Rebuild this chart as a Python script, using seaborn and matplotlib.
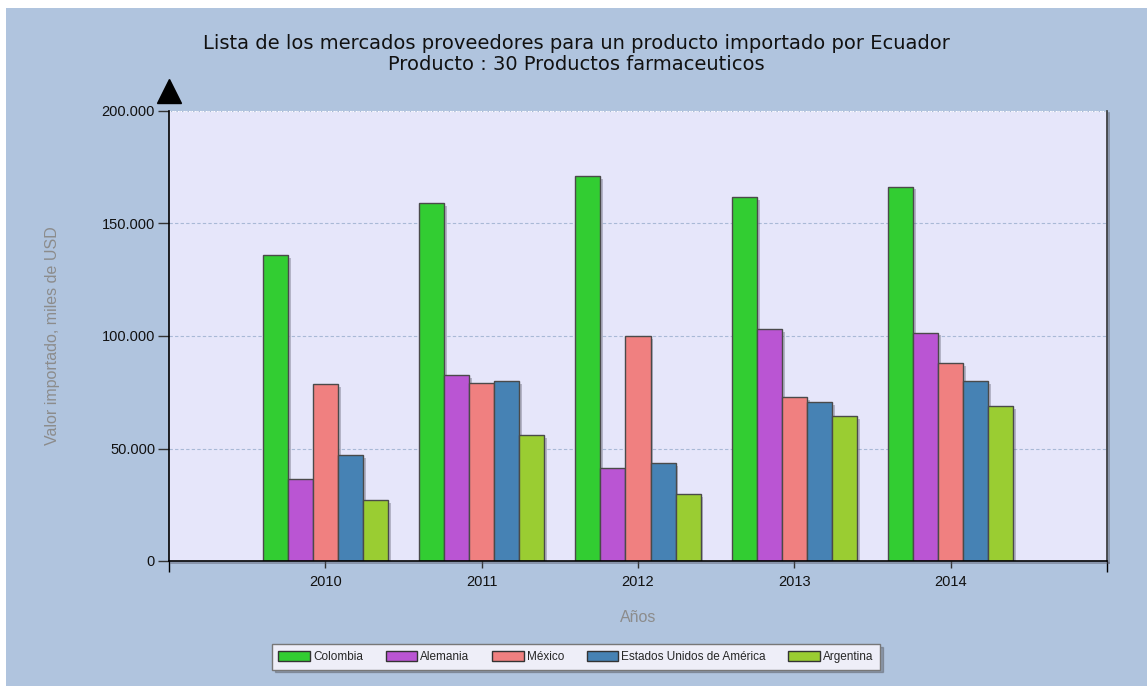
import numpy as np
import pandas as pd
import matplotlib
matplotlib.use("Agg")
import matplotlib.pyplot as plt
import matplotlib.patheffects as pe
from matplotlib.patches import Rectangle, Patch
from matplotlib.ticker import FuncFormatter
import seaborn as sns

years = ["2010", "2011", "2012", "2013", "2014"]
countries = ["Colombia", "Alemania", "México", "Estados Unidos de América", "Argentina"]
colombia = [136000, 159000, 171000, 161800, 166400]
alemania = [36400, 82700, 41300, 103000, 101500]
mexico = [78700, 79300, 100000, 73000, 87900]
eeuu = [47100, 79900, 43600, 70500, 80100]
argentina = [27100, 55900, 29800, 64400, 68900]
colors = ["#32CD32", "#BA55D3", "#F08080", "#4682B4", "#9ACD32"]
yticks = [0, 50000, 100000, 150000, 200000]

title = "Lista de los mercados proveedores para un producto importado por Ecuador\nProducto : 30 Productos farmaceuticos"
ylabel = "Valor importado, miles de USD"
xlabel = "Años"

series = [colombia, alemania, mexico, eeuu, argentina]
rows = []
for c, vals in zip(countries, series):
    for y, v in zip(years, vals):
        rows.append({"Año": y, "País": c, "Valor": v})
df = pd.DataFrame(rows)

sns.set_theme(style="white")
plt.rcParams["font.family"] = ["DejaVu Sans"]

fig = plt.figure(figsize=(11.47, 6.86), dpi=100)
fig.patch.set_facecolor("white")
fig.add_artist(Rectangle((6 / 1147, 0), 1, 1 - 8 / 686, transform=fig.transFigure,
                         facecolor="#B0C4DE", edgecolor="none", zorder=-10))

ax = fig.add_axes([169 / 1147, 1 - 561 / 686, (1107 - 169) / 1147, (561 - 111) / 686])
ax.set_facecolor("#E6E6FA")

sns.barplot(data=df, x="Año", y="Valor", hue="País", hue_order=countries, order=years,
            palette=colors, width=0.8, edgecolor="#4a4a4a", linewidth=1.0,
            errorbar=None, legend=False, ax=ax, saturation=1)

for p in ax.patches:
    p.set_path_effects([pe.SimplePatchShadow(offset=(2, -2), shadow_rgbFace="#555566", alpha=0.35),
                        pe.Normal()])

ax.set_xlim(-1, 5)
ax.set_ylim(0, 200000)
ax.set_yticks(yticks)
ax.yaxis.set_major_formatter(FuncFormatter(lambda v, pos: f"{int(v):,}".replace(",", ".")))
ax.set_axisbelow(True)
ax.yaxis.grid(True, color="#A9B9D6", linestyle=(0, (3, 2)), linewidth=0.8)
ax.xaxis.grid(False)

ax.spines["top"].set_visible(False)
ax.spines["left"].set_color("black")
ax.spines["bottom"].set_color("black")
ax.spines["left"].set_linewidth(1.2)
ax.spines["bottom"].set_linewidth(1.2)
ax.spines["right"].set_color("#333333")
ax.spines["right"].set_linewidth(1.2)
ax.spines["right"].set_path_effects([pe.SimpleLineShadow(offset=(1.5, -1.5), shadow_color="#555566", alpha=0.5), pe.Normal()])
ax.spines["bottom"].set_path_effects([pe.SimpleLineShadow(offset=(1.5, -1.5), shadow_color="#555566", alpha=0.5), pe.Normal()])
ax.axhline(200000, color="white", linestyle=(0, (1, 1)), linewidth=1.0)

ax.tick_params(axis="y", which="major", direction="out", length=8, width=1, color="#333333",
               labelsize=10.5, labelcolor="#111111", pad=2, left=True)
ax.tick_params(axis="x", which="major", direction="out", length=5, width=1, color="#333333",
               labelsize=10.5, labelcolor="#111111", pad=5, bottom=True)
ax.set_xticks([-1, 5], minor=True)
ax.tick_params(axis="x", which="minor", direction="out", length=8, width=1, color="black", bottom=True)
for lab in ax.get_xticklabels() + ax.get_yticklabels():
    lab.set_fontfamily(["Liberation Sans", "DejaVu Sans"])

ax.set_xlabel(xlabel, color="#8C8C8C", fontsize=11.5, labelpad=15, fontfamily=["Liberation Sans"])
ax.set_ylabel(ylabel, color="#8C8C8C", fontsize=11.5, labelpad=30, fontfamily=["Liberation Sans"])

ax.plot([0], [1.045], marker="^", markersize=17, color="black", transform=ax.transAxes, clip_on=False)

fig.text(576 / 1147, 1 - 54 / 686, title, ha="center", va="center", fontsize=14, color="#111111",
         linespacing=1.15)

handles = [Patch(facecolor=c, edgecolor="#333333", label=n) for c, n in zip(colors, countries)]
leg = fig.legend(handles=handles, loc="center", bbox_to_anchor=(576 / 1147, 1 - 657 / 686), ncol=5,
                 frameon=True, fancybox=False, shadow={"ox": 2, "oy": -2, "alpha": 0.35},
                 prop={"family": "Liberation Sans", "size": 8.5},
                 handlelength=2.7, handleheight=1.0, handletextpad=0.25, columnspacing=1.9,
                 borderpad=0.55)
leg.get_frame().set_facecolor("#EEEEF8")
leg.get_frame().set_edgecolor("#777777")
leg.get_frame().set_linewidth(1.0)

fig.savefig("out.png", dpi=100)
